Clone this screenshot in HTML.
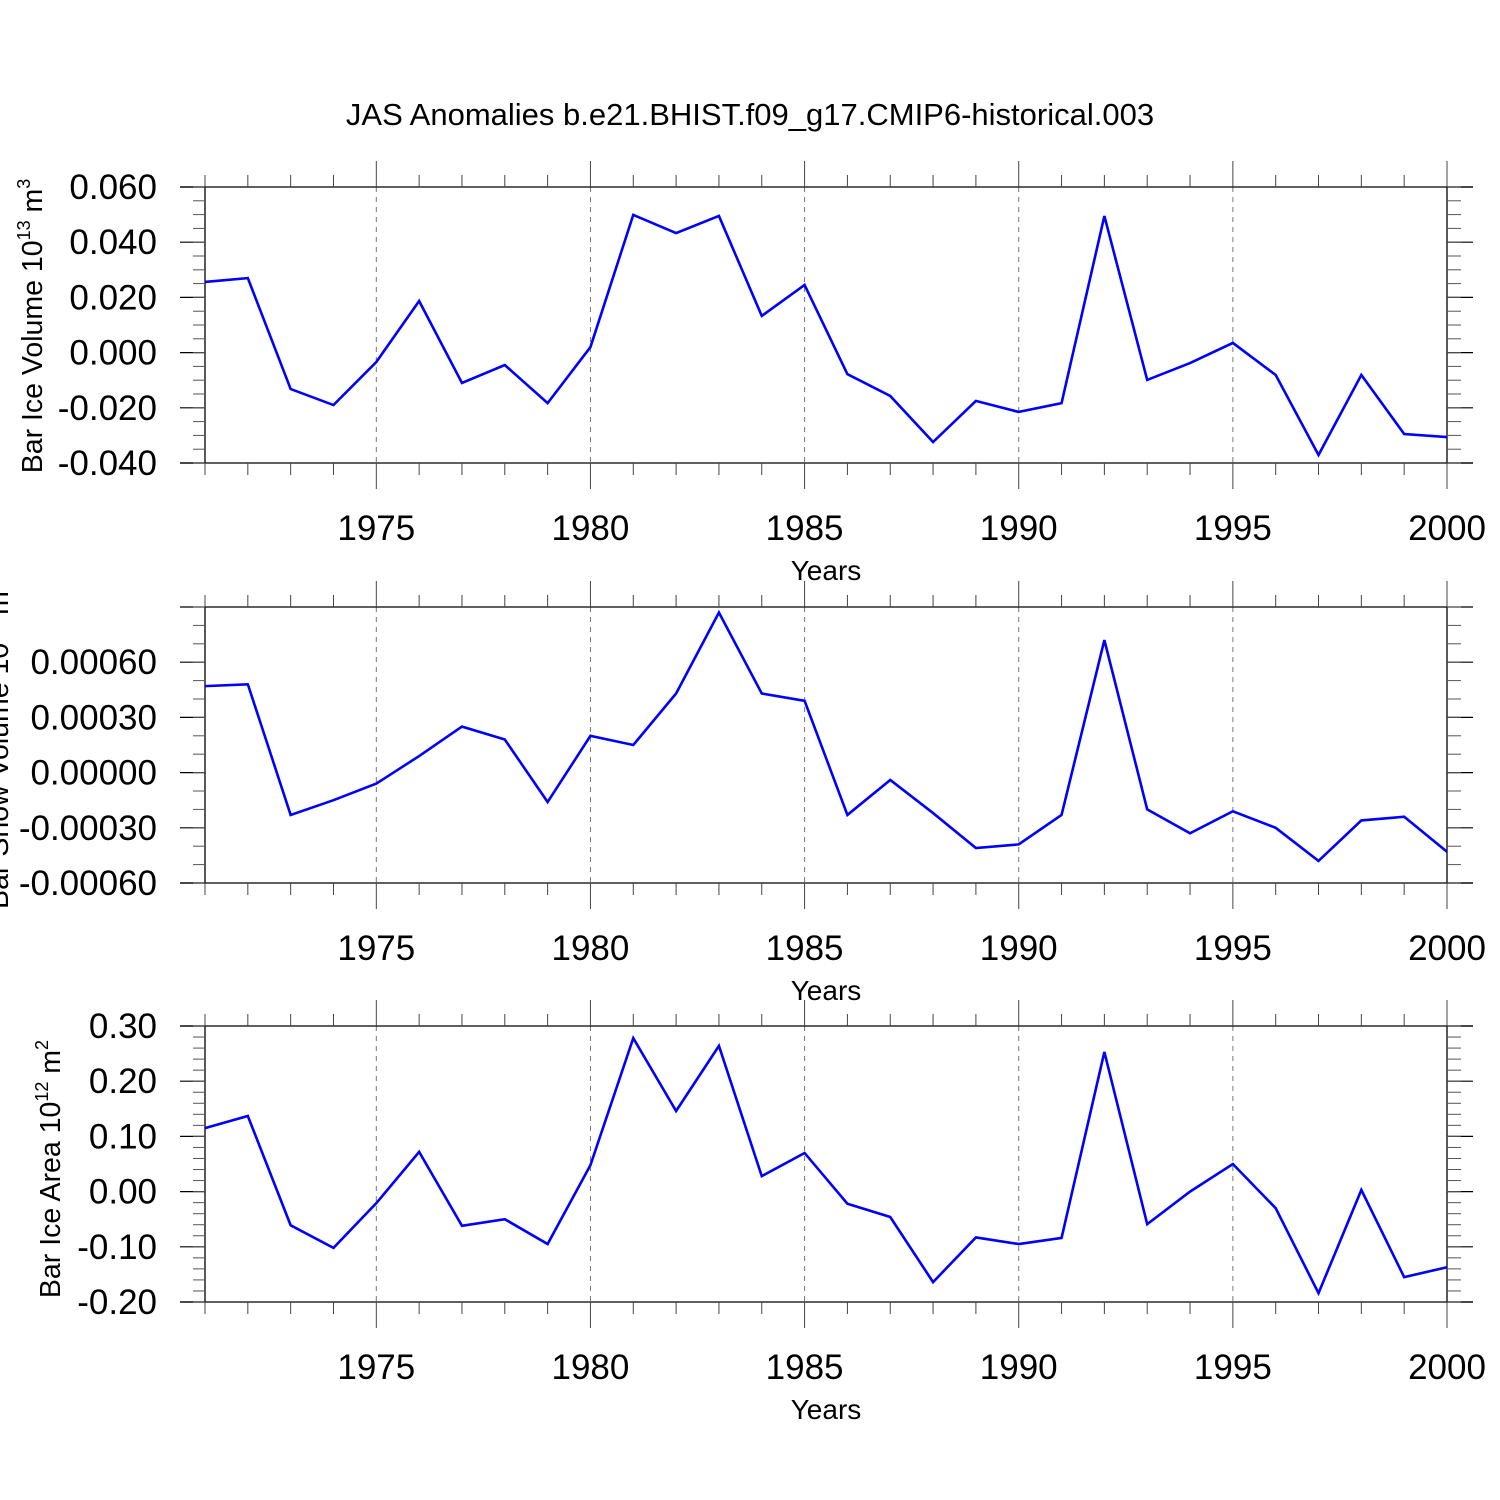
<!DOCTYPE html>
<html><head><meta charset="utf-8"><style>
html,body{margin:0;padding:0;background:#fff;}
svg{display:block;font-family:"Liberation Sans",Arial,sans-serif;}
</style></head><body>
<svg id="chart" width="1500" height="1500" viewBox="0 0 1500 1500" xmlns="http://www.w3.org/2000/svg">
<rect width="1500" height="1500" fill="#fff"/>
<text x="750" y="125" font-size="31" text-anchor="middle">JAS Anomalies b.e21.BHIST.f09_g17.CMIP6-historical.003</text>
</svg>
<script>
const years = [1971,1972,1973,1974,1975,1976,1977,1978,1979,1980,1981,1982,1983,1984,1985,1986,1987,1988,1989,1990,1991,1992,1993,1994,1995,1996,1997,1998,1999,2000];
const iceVolume = [0.0256,0.0270,-0.0132,-0.0190,-0.0034,0.0187,-0.0110,-0.0045,-0.0183,0.0020,0.0499,0.0433,0.0495,0.0133,0.0245,-0.0078,-0.0157,-0.0324,-0.0175,-0.0215,-0.0183,0.0495,-0.0099,-0.0038,0.0035,-0.0081,-0.0371,-0.0081,-0.0295,-0.0306];
const snowVolume = [0.00047,0.00048,-0.00023,-0.00015,-0.00006,0.00009,0.00025,0.00018,-0.00016,0.00020,0.00015,0.00043,0.00087,0.00043,0.00039,-0.00023,-0.00004,-0.00022,-0.00041,-0.00039,-0.00023,0.00072,-0.00020,-0.00033,-0.00021,-0.00030,-0.00048,-0.00026,-0.00024,-0.00043];
const iceArea = [0.115,0.137,-0.061,-0.102,-0.021,0.072,-0.062,-0.050,-0.095,0.048,0.278,0.146,0.264,0.028,0.070,-0.022,-0.046,-0.164,-0.083,-0.095,-0.084,0.253,-0.059,0.000,0.050,-0.030,-0.184,0.003,-0.155,-0.137];
const xTickYears = [1975,1980,1985,1990,1995,2000];
const ticks1 = ["0.060","0.040","0.020","0.000","-0.020","-0.040"];
const ticks2 = ["0.00060","0.00030","0.00000","-0.00030","-0.00060"];
const ticks3 = ["0.30","0.20","0.10","0.00","-0.10","-0.20"];

const NS="http://www.w3.org/2000/svg";
const svg=document.getElementById('chart');
function mk(tag,attrs,parent){const e=document.createElementNS(NS,tag);for(const k in attrs)e.setAttribute(k,attrs[k]);(parent||svg).appendChild(e);return e;}
const X0=205,X1=1447;
function xs(y){return X0+(y-1971)/(2000-1971)*(X1-X0);}

function panel(cfg){
  const g=mk('g',{});
  
  
  const top=cfg.top,bot=cfg.top+276;
  const ys=v=>top+(cfg.max-v)/(cfg.max-cfg.min)*(bot-top);
  xTickYears.forEach(yr=>{ if(yr<2000){const l=mk('line',{x1:xs(yr),x2:xs(yr),y1:top,y2:bot,stroke:'#777','stroke-width':1,'stroke-dasharray':'5,5'},g);
    
    }});
  mk('line',{x1:180,x2:1473,y1:top,y2:top,stroke:'#000','stroke-width':1.3},g);
  mk('line',{x1:180,x2:1473,y1:bot,y2:bot,stroke:'#000','stroke-width':1.3},g);
  mk('line',{x1:X0,x2:X0,y1:top,y2:bot,stroke:'#000','stroke-width':1.3},g);
  mk('line',{x1:X1,x2:X1,y1:top,y2:bot,stroke:'#000','stroke-width':1.3},g);
  years.forEach(yr=>{
    const len=(yr%5===0)?26:12;
    mk('line',{x1:xs(yr),x2:xs(yr),y1:top,y2:top-len,stroke:'#444','stroke-width':1},g);
    mk('line',{x1:xs(yr),x2:xs(yr),y1:bot,y2:bot+len,stroke:'#444','stroke-width':1},g);
  });
  xTickYears.forEach(yr=>{
    const t=mk('text',{x:xs(yr),y:bot+77,'font-size':35,'text-anchor':'middle'},g);
    t.textContent=yr;
    
    
  });
  const xt=mk('text',{x:826,y:bot+117,'font-size':28,'text-anchor':'middle'},g);
  xt.textContent='Years';
  
  
  const n=cfg.labels.length;
  const step=parseFloat(cfg.labels[0])-parseFloat(cfg.labels[1]);
  const first=parseFloat(cfg.labels[0]);
  for(let i=0;i<n;i++){
    const v=first-i*step, y=ys(v);
    mk('line',{x1:180,x2:X0,y1:y,y2:y,stroke:'#000','stroke-width':1.2},g);
    mk('line',{x1:X1,x2:1473,y1:y,y2:y,stroke:'#000','stroke-width':1.2},g);
    const t=mk('text',{x:157,y:y+12,'font-size':35,'text-anchor':'end'},g);
    t.textContent=cfg.labels[i];
    
    
  }
  const minorStep=step/cfg.sub;
  for(let v=cfg.min;v<=cfg.max+1e-12;v+=minorStep){
    const y=ys(v);
    mk('line',{x1:193,x2:X0,y1:y,y2:y,stroke:'#555','stroke-width':1},g);
    mk('line',{x1:X1,x2:1461,y1:y,y2:y,stroke:'#555','stroke-width':1},g);
  }
  const yt=mk('text',{transform:`translate(${cfg.tx},${cfg.ty}) rotate(-90)`,'font-size':28.5,'text-anchor':'middle'},g);
  
  
  yt.innerHTML=cfg.title+' 10<tspan dy="-12" font-size="18">'+cfg.exp+'</tspan><tspan dy="12"> m</tspan><tspan dy="-12" font-size="18">'+cfg.unit+'</tspan>';
  const pts=years.map((yr,i)=>xs(yr)+','+ys(cfg.data[i])).join(' ');
  const pl=mk('polyline',{points:pts,fill:'none',stroke:'#0000ff','stroke-width':2.6,'stroke-linejoin':'miter'},g);
  
  
}
panel({name:'ice-volume-panel',top:187,max:0.06,min:-0.04,labels:ticks1,sub:4,data:iceVolume,title:'Bar Ice Volume',exp:'13',unit:'3',tx:42,ty:326});
panel({name:'snow-volume-panel',top:607,max:0.0009,min:-0.0006,labels:ticks2,sub:3,data:snowVolume,title:'Bar Snow Volume',exp:'13',unit:'3',tx:8,ty:745});
panel({name:'ice-area-panel',top:1026,max:0.3,min:-0.2,labels:ticks3,sub:5,data:iceArea,title:'Bar Ice Area',exp:'12',unit:'2',tx:60,ty:1169});
</script>
</body></html>
